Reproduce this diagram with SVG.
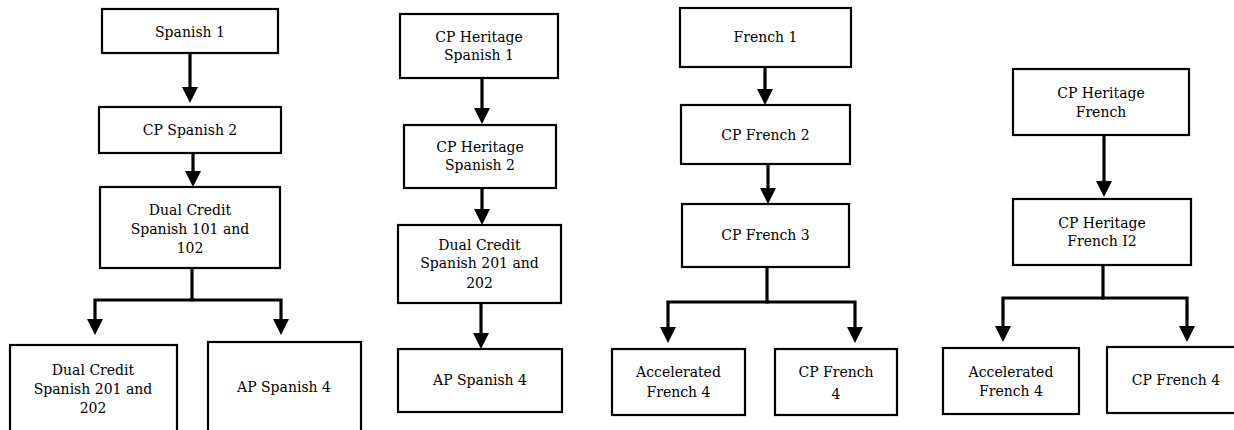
<svg xmlns="http://www.w3.org/2000/svg" width="1234" height="430" viewBox="0 0 1234 430">
<style>
.box{fill:#fff;stroke:#000;stroke-width:2.2}
.lbl{font-family:"DejaVu Serif","Liberation Serif",serif;font-size:14px;fill:#000;text-anchor:middle}
.con{fill:none;stroke:#000;stroke-width:3.2;stroke-linejoin:miter;marker-end:url(#ah)}
.seg{fill:none;stroke:#000;stroke-width:3.2}
</style>
<defs>
<marker id="ah" viewBox="0 0 16 16" markerWidth="16" markerHeight="16" refX="0" refY="8" orient="auto" markerUnits="userSpaceOnUse">
<path d="M0,0 L16,8 L0,16 z" fill="#000"/>
</marker>
</defs>
<rect width="1234" height="430" fill="#fff"/>
<g id="connectors">
<path class="con" d="M190,53 V87"/>
<path class="con" d="M193,153 V171"/>
<path class="seg" d="M192,268 V300"/>
<path class="con" d="M193.6,300 H95 V319"/>
<path class="con" d="M190.4,300 H281 V319"/>
<path class="con" d="M482,78 V108"/>
<path class="con" d="M482,188 V209"/>
<path class="con" d="M481,303 V333"/>
<path class="con" d="M765,67 V89"/>
<path class="con" d="M768,164 V188"/>
<path class="seg" d="M767,267 V302"/>
<path class="con" d="M768.6,302 H668 V327"/>
<path class="con" d="M765.4,302 H855 V327"/>
<path class="con" d="M1104,135 V181"/>
<path class="seg" d="M1103,265 V298"/>
<path class="con" d="M1104.6,298 H1003 V326"/>
<path class="con" d="M1101.4,298 H1187 V326"/>
</g>
<g id="spanish1"><rect class="box" x="102" y="9" width="176" height="44"/><text class="lbl" x="190" y="37">Spanish 1</text></g>
<g id="cpspanish2"><rect class="box" x="99" y="107" width="182" height="46"/><text class="lbl" x="190" y="135">CP Spanish 2</text></g>
<g id="dc101"><rect class="box" x="100" y="187" width="180" height="81"/><text class="lbl" x="190" y="215">Dual Credit</text><text class="lbl" x="190" y="234">Spanish 101 and</text><text class="lbl" x="190" y="253">102</text></g>
<g id="dc201a"><rect class="box" x="10" y="345" width="167" height="100"/><text class="lbl" x="93" y="375">Dual Credit</text><text class="lbl" x="93" y="394">Spanish 201 and</text><text class="lbl" x="93" y="413">202</text></g>
<g id="apspanish4a"><rect class="box" x="208" y="342" width="153" height="100"/><text class="lbl" x="284" y="392">AP Spanish 4</text></g>
<g id="cphs1"><rect class="box" x="400" y="14" width="158" height="64"/><text class="lbl" x="479" y="42">CP Heritage</text><text class="lbl" x="479" y="60">Spanish 1</text></g>
<g id="cphs2"><rect class="box" x="404" y="125" width="152" height="63"/><text class="lbl" x="480" y="152">CP Heritage</text><text class="lbl" x="480" y="170">Spanish 2</text></g>
<g id="dc201b"><rect class="box" x="398" y="225" width="163" height="78"/><text class="lbl" x="479.5" y="250">Dual Credit</text><text class="lbl" x="479.5" y="268">Spanish 201 and</text><text class="lbl" x="479.5" y="288">202</text></g>
<g id="apspanish4b"><rect class="box" x="398" y="349" width="164" height="63"/><text class="lbl" x="480" y="385">AP Spanish 4</text></g>
<g id="french1"><rect class="box" x="680" y="8" width="171" height="59"/><text class="lbl" x="765.5" y="42">French 1</text></g>
<g id="cpfrench2"><rect class="box" x="681" y="105" width="169" height="59"/><text class="lbl" x="765.5" y="140">CP French 2</text></g>
<g id="cpfrench3"><rect class="box" x="682" y="204" width="167" height="63"/><text class="lbl" x="765.5" y="240">CP French 3</text></g>
<g id="accfrench4a"><rect class="box" x="612" y="349" width="133" height="66"/><text class="lbl" x="678.5" y="377">Accelerated</text><text class="lbl" x="678.5" y="397">French 4</text></g>
<g id="cpfrench4a"><rect class="box" x="775" y="349" width="122" height="66"/><text class="lbl" x="836" y="377">CP French</text><text class="lbl" x="836" y="399">4</text></g>
<g id="cphf"><rect class="box" x="1013" y="69" width="176" height="66"/><text class="lbl" x="1101" y="98">CP Heritage</text><text class="lbl" x="1101" y="117">French</text></g>
<g id="cphfi2"><rect class="box" x="1013" y="199" width="178" height="66"/><text class="lbl" x="1102" y="228">CP Heritage</text><text class="lbl" x="1102" y="246">French I2</text></g>
<g id="accfrench4b"><rect class="box" x="943" y="348" width="136" height="66"/><text class="lbl" x="1011" y="377">Accelerated</text><text class="lbl" x="1011" y="396">French 4</text></g>
<g id="cpfrench4b"><rect class="box" x="1107" y="347" width="135" height="66"/><text class="lbl" x="1176" y="385">CP French 4</text></g>
</svg>
